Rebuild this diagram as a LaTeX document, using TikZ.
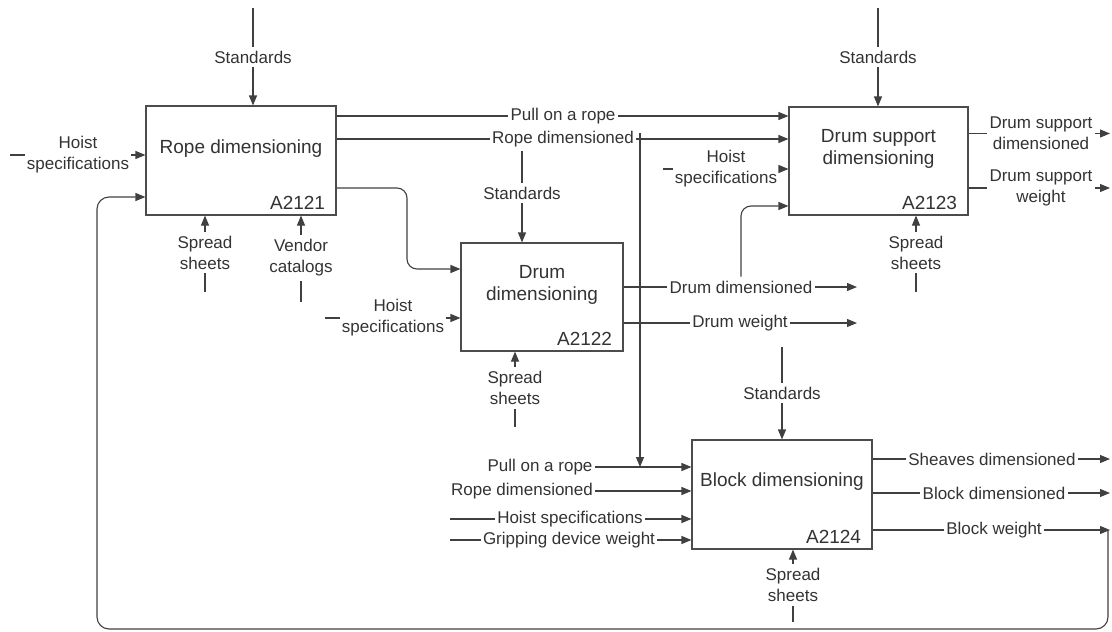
\documentclass[tikz,border=0pt]{standalone}
\usepackage{fontspec}
\setmainfont{Liberation Sans}
\usepackage{tikz}
\usetikzlibrary{arrows.meta}
\usetikzlibrary{positioning}
\usetikzlibrary{calc}
\definecolor{inkgray}{gray}{0.2}
\tikzset{
  % Filled triangle tips, as in the IDEF0 sheet
  >={Triangle[length=10pt,width=8pt]},
  % Common styles for connectors
  line/.style={draw=black!75, line width=1.1pt},
  arrowline/.style={line, ->}
}

\begin{document}
\begin{tikzpicture}[x=1pt, y=-1pt]
    % Define styles
    \tikzstyle{activity} = [rectangle, draw=black!70, line width=1.1pt, inner sep=0pt]
    \tikzstyle{title} = [text=inkgray, align=center, font=\fontsize{19}{22}\selectfont]
    \tikzstyle{code} = [text=inkgray, anchor=base east, font=\fontsize{19}{22}\selectfont]
    \tikzstyle{tag} = [text=inkgray, align=center, inner xsep=2pt, inner ysep=4pt, font=\fontsize{17}{21}\selectfont]

    \useasboundingbox (0,0) rectangle (1112,632);

    % Place boxes
    \node [activity, minimum width=190pt, minimum height=109pt] (rope) at (241,160.5) {};
    \node [activity, minimum width=162pt, minimum height=108pt] (drum) at (542,297) {};
    \node [activity, minimum width=179pt, minimum height=108pt] (dsup) at (878.5,161) {};
    \node [activity, minimum width=180pt, minimum height=109pt] (blk) at (782,494.5) {};

    \node [title] at ([yshift=12pt]rope.center) {Rope dimensioning};
    \node [title] at ([yshift=12.5pt]drum.center) {Drum\\dimensioning};
    \node [title] at ([yshift=12.5pt]dsup.center) {Drum support\\dimensioning};
    \node [title] at ([yshift=12.5pt]blk.center) {Block dimensioning};
    \node [code] at ([xshift=-8pt,yshift=6pt]rope.south east) {A2121};
    \node [code] at ([xshift=-8pt,yshift=6pt]drum.south east) {A2122};
    \node [code] at ([xshift=-8pt,yshift=6pt]dsup.south east) {A2123};
    \node [code] at ([xshift=-8pt,yshift=6pt]blk.south east) {A2124};

    % Place labels
    \node [tag] (rstd) at (253,57) {Standards};
    \node [tag] (sstd) at (878,57) {Standards};
    \node [tag] (pull) at (563,116) {Pull on a rope};
    \node [tag] (rdim) at (563,139) {Rope dimensioned};
    \node [tag] (dstd) at (522,193) {Standards};
    \node [tag] (bstd) at (782,393) {Standards};
    \node [tag] (rhs) at (78,155) {Hoist\\specifications};
    \node [tag] (dhs) at (393,318) {Hoist\\specifications};
    \node [tag] (shs) at (726,169) {Hoist\\specifications};
    \node [tag] (rss) at (205,252.5) {Spread\\sheets};
    \node [tag] (rvc) at (301,258) {Vendor\\catalogs};
    \node [tag] (dss) at (515,388) {Spread\\sheets};
    \node [tag] (sss) at (916,252.5) {Spread\\sheets};
    \node [tag] (bss) at (793,585) {Spread\\sheets};
    \node [tag] (ddim) at (741,287) {Drum dimensioned};
    \node [tag] (dwt) at (740,323) {Drum weight};
    \node [tag] (sdim) at (1041,133.5) {Drum support\\dimensioned};
    \node [tag] (swt) at (1041,188) {Drum support\\weight};
    \node [tag] (bpull) at (540,467) {Pull on a rope};
    \node [tag] (brdim) at (522,491) {Rope dimensioned};
    \node [tag] (bhs) at (570,519) {Hoist specifications};
    \node [tag] (bgw) at (569,540) {Gripping device weight};
    \node [tag] (bshv) at (992,459) {Sheaves dimensioned};
    \node [tag] (bdim) at (994,493) {Block dimensioned};
    \node [tag] (bwt) at (994,530) {Block weight};

    % Free ends
    \coordinate (rstd0) at (253,8);
    \coordinate (sstd0) at (878,8);
    \coordinate (bstd0) at (782,347);
    \coordinate (rhs0) at (10,155);
    \coordinate (dhs0) at (325,318);
    \coordinate (shs0) at (663,169);
    \coordinate (rss0) at (205,292);
    \coordinate (rvc0) at (301,302);
    \coordinate (dss0) at (515,427);
    \coordinate (sss0) at (916,292);
    \coordinate (bss0) at (793,622);
    \coordinate (bhs0) at (450,519);
    \coordinate (bgw0) at (450,540);
    \coordinate (ddim1) at (857,287);
    \coordinate (dwt1) at (857,323);
    \coordinate (sdim1) at (1110,133.5);
    \coordinate (swt1) at (1110,188);
    \coordinate (bshv1) at (1110,459);
    \coordinate (bdim1) at (1110,493);
    \coordinate (bwt1) at (1110,530);
    \coordinate (pbr0) at (640,133);
    \coordinate (loop0) at (1108,530);

    % Controls
    \draw [line] (rstd0) -- (rstd);
    \draw [arrowline] (rstd) -- (rope.north -| rstd);
    \draw [line] (sstd0) -- (sstd);
    \draw [arrowline] (sstd) -- (dsup.north -| sstd);
    \draw [line] (rdim.south -| dstd) -- (dstd);
    \draw [arrowline] (dstd) -- (drum.north -| dstd);
    \draw [line] (bstd0) -- (bstd);
    \draw [arrowline] (bstd) -- (blk.north -| bstd);

    % Mechanisms
    \foreach \lbl/\act in {rss/rope, rvc/rope, dss/drum, sss/dsup, bss/blk} {
      \draw [line] (\lbl0) -- (\lbl);
      \draw [arrowline] (\lbl) -- (\act.south -| \lbl);
    }

    % Inputs
    \draw [line] (rhs0) -- (rhs);
    \draw [arrowline] (rhs) -- (rope.west |- rhs);
    \draw [line] (dhs0) -- (dhs);
    \draw [arrowline] (dhs) -- (drum.west |- dhs);
    \draw [line] (shs0) -- (shs);
    \draw [arrowline] (shs) -- (dsup.west |- shs);
    \draw [arrowline] (bpull) -- (blk.west |- bpull);
    \draw [arrowline] (brdim) -- (blk.west |- brdim);
    \draw [line] (bhs0) -- (bhs);
    \draw [arrowline] (bhs) -- (blk.west |- bhs);
    \draw [line] (bgw0) -- (bgw);
    \draw [arrowline] (bgw) -- (blk.west |- bgw);

    % Outputs of rope dimensioning
    \draw [line] (rope.east |- pull) -- (pull);
    \draw [arrowline] (pull) -- (dsup.west |- pull);
    \draw [line] (rope.east |- rdim) -- (rdim);
    \draw [arrowline] (rdim) -- (dsup.west |- rdim);
    \draw [arrowline] (pbr0) -- (pbr0 |- bpull);
    \draw [arrowline, rounded corners=10pt] (rope.east |- 0,188) -| (407,269) -- (drum.west |- 0,269);

    % Outputs of drum dimensioning
    \draw [line] (drum.east |- ddim) -- (ddim);
    \draw [arrowline] (ddim) -- (ddim1);
    \draw [arrowline, rounded corners=10pt] (ddim.north) |- (dsup.west |- 0,206);
    \draw [line] (drum.east |- dwt) -- (dwt);
    \draw [arrowline] (dwt) -- (dwt1);

    % Outputs of drum support and block dimensioning
    \foreach \lbl/\act in {sdim/dsup, swt/dsup, bshv/blk, bdim/blk, bwt/blk} {
      \draw [line] (\act.east |- \lbl) -- (\lbl);
      \draw [arrowline] (\lbl) -- (\lbl1);
    }

    % Feedback to rope dimensioning
    \draw [arrowline, rounded corners=12pt] (loop0) |- (97,629) |- (rope.west |- 0,197);
\end{tikzpicture}
\end{document}
